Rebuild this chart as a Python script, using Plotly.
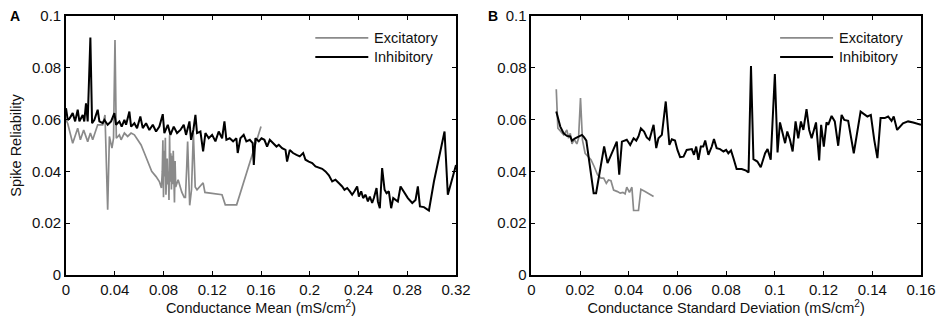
import plotly.graph_objects as go

# ---------------- Panel A: conductance mean ----------------
a_exc_x = [0.0, 0.0014, 0.0055, 0.0096, 0.0118, 0.0145, 0.0178, 0.0200, 0.0219, 0.0246,
           0.0260, 0.0301, 0.0320, 0.0342, 0.0356, 0.0377, 0.0390, 0.0402, 0.0413, 0.0438,
           0.0452, 0.0479, 0.0506, 0.0534, 0.0561, 0.0588, 0.0616, 0.0643, 0.0670, 0.0684,
           0.0703, 0.0739, 0.0766, 0.0783, 0.0790, 0.0795, 0.0800, 0.0805, 0.0810, 0.0815,
           0.0820, 0.0830, 0.0835, 0.0840, 0.0845, 0.0850, 0.0855, 0.0860, 0.0865, 0.0870,
           0.0875, 0.0880, 0.0885, 0.0890, 0.0895, 0.0900, 0.0920, 0.0950, 0.0970, 0.0980,
           0.0990, 0.0998, 0.1015, 0.1030, 0.1045, 0.1060, 0.1075, 0.1125, 0.1140, 0.1280,
           0.1307, 0.1400, 0.1600]
a_exc_y = [0.0600, 0.0585, 0.0509, 0.0567, 0.0522, 0.0560, 0.0515, 0.0548, 0.0522, 0.0560,
           0.0580, 0.0580, 0.0618, 0.0252, 0.0535, 0.0490, 0.0528, 0.0907, 0.0528, 0.0541,
           0.0522, 0.0548, 0.0535, 0.0548, 0.0541, 0.0522, 0.0502, 0.0471, 0.0438, 0.0425,
           0.0400, 0.0380, 0.0361, 0.0336, 0.0400, 0.0520, 0.0300, 0.0480, 0.0380, 0.0530,
           0.0310, 0.0450, 0.0350, 0.0400, 0.0290, 0.0540, 0.0360, 0.0470, 0.0330, 0.0460,
           0.0350, 0.0480, 0.0360, 0.0280, 0.0440, 0.0340, 0.0368, 0.0320, 0.0300, 0.0300,
           0.0410, 0.0515, 0.0269, 0.0330, 0.0550, 0.0340, 0.0329, 0.0356, 0.0319, 0.0310,
           0.0271, 0.0271, 0.0573]

a_inh_x = [0.0, 0.0014, 0.0030, 0.0055, 0.0075, 0.0096, 0.0110, 0.0137, 0.0150, 0.0164,
           0.0178, 0.0200, 0.0214, 0.0233, 0.0260, 0.0274, 0.0301, 0.0315, 0.0342, 0.0370,
           0.0397, 0.0411, 0.0438, 0.0457, 0.0479, 0.0493, 0.0520, 0.0534, 0.0561, 0.0583,
           0.0610, 0.0630, 0.0657, 0.0684, 0.0712, 0.0739, 0.0766, 0.0794, 0.0807, 0.0835,
           0.0857, 0.0884, 0.0911, 0.0939, 0.0966, 0.0985, 0.1013, 0.1026, 0.1045, 0.1062,
           0.1075, 0.1103, 0.1125, 0.1144, 0.1171, 0.1199, 0.1226, 0.1253, 0.1281, 0.1300,
           0.1316, 0.1343, 0.1371, 0.1398, 0.1409, 0.1431, 0.1458, 0.1480, 0.1508, 0.1532,
           0.1541, 0.1554, 0.1582, 0.1604, 0.1628, 0.1650, 0.1672, 0.1699, 0.1727, 0.1746,
           0.1773, 0.1801, 0.1814, 0.1836, 0.1863, 0.1891, 0.1918, 0.1946, 0.1965, 0.1992,
           0.2020, 0.2047, 0.2074, 0.2102, 0.2129, 0.2157, 0.2184, 0.2211, 0.2238, 0.2266,
           0.2285, 0.2307, 0.2329, 0.2348, 0.2367, 0.2389, 0.2403, 0.2422, 0.2438, 0.2458,
           0.2477, 0.2493, 0.2512, 0.2526, 0.2548, 0.2559, 0.2575, 0.2594, 0.2614, 0.2630,
           0.2649, 0.2668, 0.2685, 0.2704, 0.2723, 0.2745, 0.2772, 0.2805, 0.2841, 0.2868,
           0.2887, 0.2904, 0.2937, 0.2978, 0.3019, 0.3106, 0.3133, 0.3200]
a_inh_y = [0.0644, 0.0599, 0.0605, 0.0625, 0.0593, 0.0638, 0.0593, 0.0618, 0.0593, 0.0663,
           0.0593, 0.0917, 0.0586, 0.0599, 0.0638, 0.0593, 0.0586, 0.0599, 0.0580, 0.0593,
           0.0625, 0.0580, 0.0593, 0.0573, 0.0599, 0.0580, 0.0631, 0.0573, 0.0586, 0.0567,
           0.0612, 0.0567, 0.0586, 0.0560, 0.0580, 0.0554, 0.0573, 0.0621, 0.0548, 0.0580,
           0.0541, 0.0573, 0.0548, 0.0560, 0.0580, 0.0541, 0.0593, 0.0522, 0.0560, 0.0618,
           0.0548, 0.0554, 0.0477, 0.0548, 0.0528, 0.0541, 0.0516, 0.0554, 0.0528, 0.0593,
           0.0522, 0.0528, 0.0516, 0.0528, 0.0471, 0.0528, 0.0541, 0.0516, 0.0522, 0.0509,
           0.0425, 0.0528, 0.0516, 0.0528, 0.0522, 0.0496, 0.0522, 0.0509, 0.0496, 0.0503,
           0.0490, 0.0483, 0.0438, 0.0483, 0.0471, 0.0464, 0.0458, 0.0471, 0.0445, 0.0438,
           0.0432, 0.0419, 0.0413, 0.0410, 0.0400, 0.0385, 0.0361, 0.0368, 0.0355, 0.0342,
           0.0329, 0.0336, 0.0323, 0.0310, 0.0323, 0.0342, 0.0303, 0.0323, 0.0297, 0.0310,
           0.0284, 0.0303, 0.0278, 0.0297, 0.0336, 0.0284, 0.0258, 0.0413, 0.0329, 0.0316,
           0.0323, 0.0258, 0.0297, 0.0290, 0.0284, 0.0342, 0.0323, 0.0297, 0.0278, 0.0290,
           0.0342, 0.0265, 0.0262, 0.0249, 0.0361, 0.0554, 0.0310, 0.0425]

# ---------------- Panel B: conductance standard deviation ----------------
b_exc_x = [0.01025, 0.0109, 0.0133, 0.0146, 0.0153, 0.0160, 0.0167, 0.0176, 0.0187, 0.0194,
           0.0202, 0.0210, 0.0221, 0.0235, 0.0245, 0.0258, 0.0272, 0.0286, 0.0297, 0.0308,
           0.0317, 0.0327, 0.0338, 0.0354, 0.0365, 0.0376, 0.0385, 0.0392, 0.0403, 0.0413,
           0.0420, 0.0440, 0.0450, 0.0467, 0.0502]
b_exc_y = [0.0717, 0.0567, 0.0541, 0.0560, 0.0528, 0.0547, 0.0506, 0.0524, 0.0506, 0.0528,
           0.0683, 0.0522, 0.0470, 0.0457, 0.0445, 0.0419, 0.0387, 0.0374, 0.0374, 0.0354,
           0.0367, 0.0364, 0.0328, 0.0322, 0.0316, 0.0319, 0.0313, 0.0339, 0.0319, 0.0339,
           0.0249, 0.0249, 0.0331, 0.0322, 0.0303]

b_inh_x = [0.01025, 0.0112, 0.0119, 0.0133, 0.0146, 0.0160, 0.0167, 0.0180, 0.0194, 0.0208,
           0.0217, 0.0226, 0.0256, 0.0266, 0.0299, 0.0313, 0.0351, 0.0361, 0.0372, 0.0392,
           0.0406, 0.0420, 0.0431, 0.0440, 0.0450, 0.0463, 0.0474, 0.0485, 0.0502, 0.0513,
           0.0522, 0.0536, 0.0552, 0.0567, 0.0577, 0.0590, 0.0600, 0.0611, 0.0625, 0.0638,
           0.0659, 0.0668, 0.0677, 0.0686, 0.0696, 0.0706, 0.0714, 0.0727, 0.0741, 0.0750,
           0.0761, 0.0775, 0.0789, 0.0800, 0.0809, 0.0820, 0.0830, 0.0843, 0.0864, 0.0882,
           0.0892, 0.0902, 0.0912, 0.0928, 0.0942, 0.0960, 0.0970, 0.0983, 0.1000, 0.1011,
           0.1021, 0.1031, 0.1042, 0.1051, 0.1062, 0.1073, 0.1085, 0.1096, 0.1107, 0.1117,
           0.1130, 0.1141, 0.1151, 0.1169, 0.1182, 0.1190, 0.1201, 0.1212, 0.1219, 0.1233,
           0.1246, 0.1260, 0.1274, 0.1285, 0.1301, 0.1324, 0.1352, 0.1380, 0.1394, 0.1408,
           0.1421, 0.1434, 0.1451, 0.1465, 0.1479, 0.1488, 0.1502, 0.1526, 0.1547, 0.1568,
           0.1600]
b_inh_y = [0.0631, 0.0593, 0.0573, 0.0547, 0.0537, 0.0535, 0.0519, 0.0528, 0.0533, 0.0541,
           0.0531, 0.0519, 0.0316, 0.0316, 0.0496, 0.0432, 0.0515, 0.0387, 0.0515, 0.0522,
           0.0502, 0.0528, 0.0519, 0.0535, 0.0566, 0.0554, 0.0531, 0.0522, 0.0580, 0.0490,
           0.0528, 0.0541, 0.0670, 0.0502, 0.0524, 0.0519, 0.0483, 0.0455, 0.0457, 0.0483,
           0.0486, 0.0464, 0.0496, 0.0445, 0.0496, 0.0496, 0.0519, 0.0464, 0.0496, 0.0525,
           0.0490, 0.0486, 0.0477, 0.0483, 0.0470, 0.0481, 0.0451, 0.0409, 0.0409, 0.0403,
           0.0396, 0.0807, 0.0447, 0.0438, 0.0416, 0.0470, 0.0486, 0.0445, 0.0776, 0.0473,
           0.0589, 0.0554, 0.0509, 0.0554, 0.0522, 0.0477, 0.0593, 0.0528, 0.0593, 0.0560,
           0.0640, 0.0560, 0.0528, 0.0589, 0.0442, 0.0580, 0.0496, 0.0589, 0.0580, 0.0614,
           0.0593, 0.0499, 0.0618, 0.0599, 0.0595, 0.0470, 0.0631, 0.0612, 0.0618, 0.0522,
           0.0451, 0.0606, 0.0606, 0.0612, 0.0595, 0.0612, 0.0560, 0.0586, 0.0593, 0.0589,
           0.0580]

# ---------------- Axis labels ----------------
y_ticks = [0, 0.02, 0.04, 0.06, 0.08, 0.1]
y_ticktext = ["0", "0.02", "0.04", "0.06", "0.08", "0.1"]
a_x_ticks = [0, 0.04, 0.08, 0.12, 0.16, 0.2, 0.24, 0.28, 0.32]
a_x_ticktext = ["0", "0.04", "0.08", "0.12", "0.16", "0.2", "0.24", "0.28", "0.32"]
b_x_ticks = [0, 0.02, 0.04, 0.06, 0.08, 0.1, 0.12, 0.14, 0.16]
b_x_ticktext = ["0", "0.02", "0.04", "0.06", "0.08", "0.1", "0.12", "0.14", "0.16"]
series_names = ["Excitatory", "Inhibitory"]
series_colors = ["#8a8a8a", "#000000"]
series_widths = [1.7, 2.0]
panel_labels = ["A", "B"]

FONT = "Liberation Sans, Arial, Helvetica, sans-serif"
TXT = "#111"

fig = go.Figure()
fig.add_trace(go.Scatter(x=a_exc_x, y=a_exc_y, mode="lines", name=series_names[0],
                         line=dict(color=series_colors[0], width=series_widths[0]),
                         xaxis="x", yaxis="y", showlegend=False))
fig.add_trace(go.Scatter(x=a_inh_x, y=a_inh_y, mode="lines", name=series_names[1],
                         line=dict(color=series_colors[1], width=series_widths[1]),
                         xaxis="x", yaxis="y", showlegend=False))
fig.add_trace(go.Scatter(x=b_exc_x, y=b_exc_y, mode="lines", name=series_names[0],
                         line=dict(color=series_colors[0], width=series_widths[0]),
                         xaxis="x2", yaxis="y2", showlegend=False))
fig.add_trace(go.Scatter(x=b_inh_x, y=b_inh_y, mode="lines", name=series_names[1],
                         line=dict(color=series_colors[1], width=series_widths[1]),
                         xaxis="x2", yaxis="y2", showlegend=False))

axis_common = dict(showline=True, linecolor="black", linewidth=1.6, mirror="ticks",
                   ticks="inside", ticklen=4, tickwidth=1.2, tickcolor="black",
                   showgrid=False, zeroline=False, automargin=False,
                   tickfont=dict(family=FONT, size=15, color=TXT))

L, R, T, B = 65.7, 22.3, 16, 46.7
W = 943 - L - R
fig.update_layout(
    template="none",
    width=943, height=322,
    margin=dict(l=L, r=R, t=T, b=B, autoexpand=False),
    paper_bgcolor="white", plot_bgcolor="white",
    font=dict(family=FONT, size=14.5, color=TXT),
    xaxis=dict(domain=[0, 390 / W], range=[0, 0.32], tickvals=a_x_ticks, ticktext=a_x_ticktext,
               title=dict(text="Conductance Mean (mS/cm<sup>2</sup>)", standoff=6,
                          font=dict(family=FONT, size=14.5, color=TXT)),
               anchor="y", **axis_common),
    yaxis=dict(domain=[0, 1], range=[0, 0.1], tickvals=y_ticks, ticktext=y_ticktext,
               title=dict(text="Spike Reliability", standoff=7,
                          font=dict(family=FONT, size=14.5, color=TXT)),
               anchor="x", **axis_common),
    xaxis2=dict(domain=[(531 - L) / W, 1.0], range=[0, 0.16], tickvals=b_x_ticks, ticktext=b_x_ticktext,
                title=dict(text="Conductance Standard Deviation (mS/cm<sup>2</sup>)", standoff=6,
                           font=dict(family=FONT, size=14.5, color=TXT)),
                anchor="y2", **axis_common),
    yaxis2=dict(domain=[0, 1], range=[0, 0.1], tickvals=y_ticks, ticktext=y_ticktext,
                anchor="x2", **axis_common),
)

# Legend drawn inside each panel (top-right)
for xd, yd, x0 in (("x domain", "y domain", (315 - 65.7) / 390), ("x2 domain", "y2 domain", (780 - 531) / 390)):
    for i in range(2):
        ypos = 1 - (22 + 19 * i) / 259.3
        fig.add_shape(type="line", xref=xd, yref=yd, x0=x0, x1=x0 + 53 / 390, y0=ypos, y1=ypos,
                      line=dict(color=series_colors[i], width=series_widths[i]))
        fig.add_annotation(xref=xd, yref=yd, x=x0 + 57 / 390, y=ypos, text=series_names[i],
                           showarrow=False, xanchor="left", yanchor="middle",
                           font=dict(family=FONT, size=14.5, color=TXT))

# Panel letters
fig.add_annotation(xref="paper", yref="paper", x=(15 - L) / W, y=1.0, text="<b>%s</b>" % panel_labels[0],
                   showarrow=False, xanchor="center", yanchor="middle",
                   font=dict(family=FONT, size=14, color="black"))
fig.add_annotation(xref="paper", yref="paper", x=(493 - L) / W, y=1.0, text="<b>%s</b>" % panel_labels[1],
                   showarrow=False, xanchor="center", yanchor="middle",
                   font=dict(family=FONT, size=14, color="black"))

fig.write_html("out.html", config={"displayModeBar": False},
               post_script="document.body.style.margin='0';document.body.style.overflow='hidden';")
